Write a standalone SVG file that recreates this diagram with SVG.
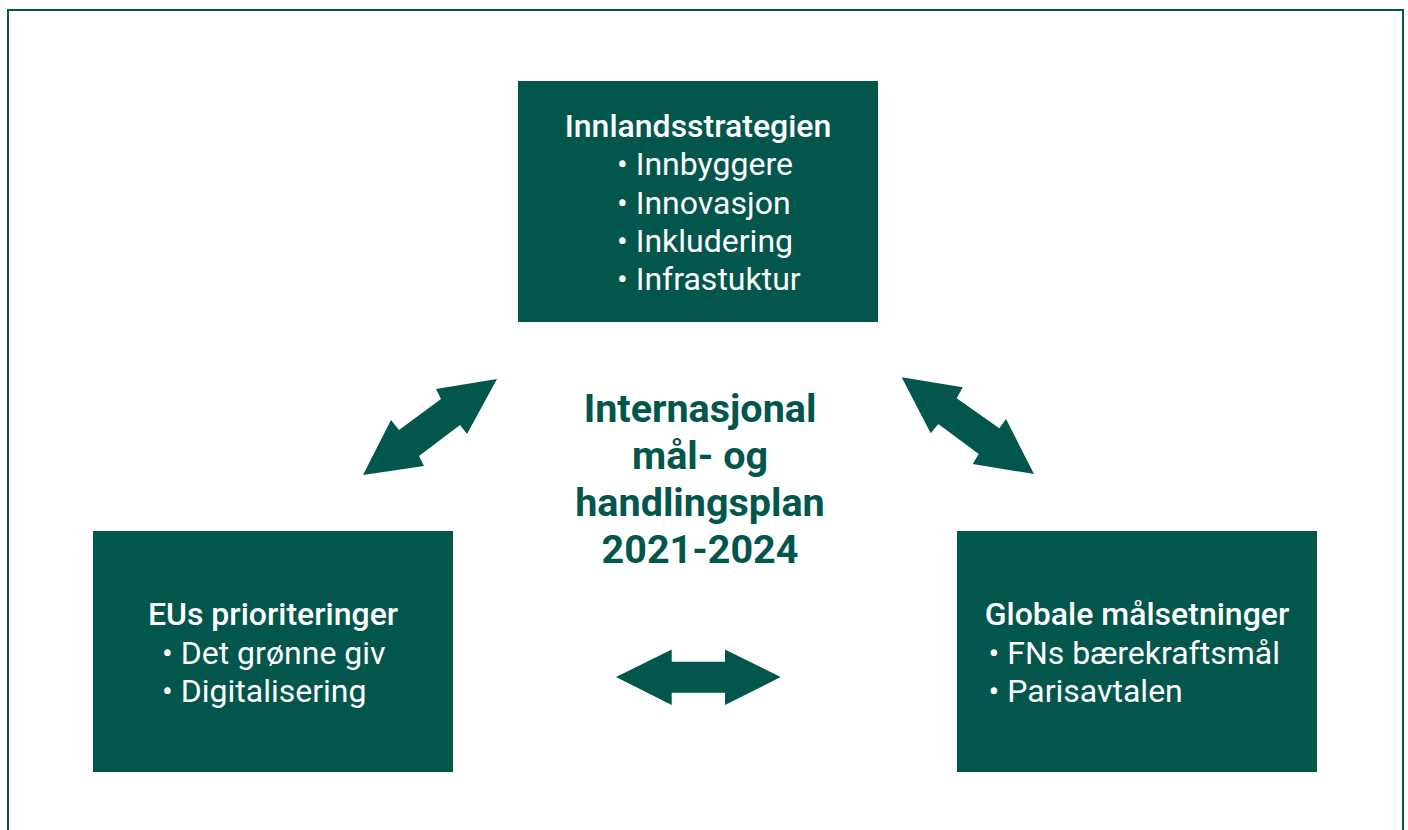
<svg xmlns="http://www.w3.org/2000/svg" width="1408" height="830" viewBox="0 0 1408 830">
<style>
.box{fill:#02564c}
.arrow{fill:#02564c}
.title{font-family:Roboto,"Liberation Sans",sans-serif;font-size:32px;font-weight:500;fill:#ffffff}
.item{font-family:Roboto,"Liberation Sans",sans-serif;font-size:32px;font-weight:400;fill:#ffffff}
.center{font-family:Roboto,"Liberation Sans",sans-serif;font-size:39.5px;font-weight:700;fill:#02564c}
</style>
<rect x="0" y="0" width="1408" height="830" fill="#ffffff"/>
<rect x="8" y="10" width="1395" height="840" fill="none" stroke="#02564c" stroke-width="2"/>
<g id="connectors">
<polygon class="arrow" points="497,379 467,434 460,425 419,456 424,466 363,475 391,420 399,430 441,399 436,389"/>
<polygon class="arrow" points="901.7,377.3 962.7,387.3 956.7,398.3 999.3,428.3 1006,419 1034,474 972.7,464 978.7,454 938.3,424 930.7,433.3"/>
<polygon class="arrow" points="616,677 671.7,649.5 671.7,661.7 725,661.7 725,649.5 780.7,677 725,705 725,692.7 671.7,692.7 671.7,705"/>
</g>
<g id="node-innland">
<rect class="box" x="518" y="81" width="360" height="241"/>
<text class="title" x="698" y="136.7" text-anchor="middle">Innlandsstrategien</text>
<text class="item" x="617" y="175.1">• Innbyggere</text>
<text class="item" x="617" y="213.5">• Innovasjon</text>
<text class="item" x="617" y="251.9">• Inkludering</text>
<text class="item" x="617" y="290.3">• Infrastuktur</text>
</g>
<g id="node-center">
<text class="center" x="700" y="422" text-anchor="middle">Internasjonal</text>
<text class="center" x="700" y="469" text-anchor="middle">mål- og</text>
<text class="center" x="700" y="516" text-anchor="middle">handlingsplan</text>
<text class="center" x="700" y="563" text-anchor="middle">2021-2024</text>
</g>
<g id="node-eu">
<rect class="box" x="93" y="531" width="360" height="241"/>
<text class="title" x="273" y="624.5" text-anchor="middle">EUs prioriteringer</text>
<text class="item" x="162" y="663.5">• Det grønne giv</text>
<text class="item" x="162" y="701.9">• Digitalisering</text>
</g>
<g id="node-global">
<rect class="box" x="957" y="531" width="360" height="241"/>
<text class="title" x="1137" y="624.5" text-anchor="middle">Globale målsetninger</text>
<text class="item" x="988.5" y="663.5">• FNs bærekraftsmål</text>
<text class="item" x="988.5" y="701.9">• Parisavtalen</text>
</g>
</svg>
